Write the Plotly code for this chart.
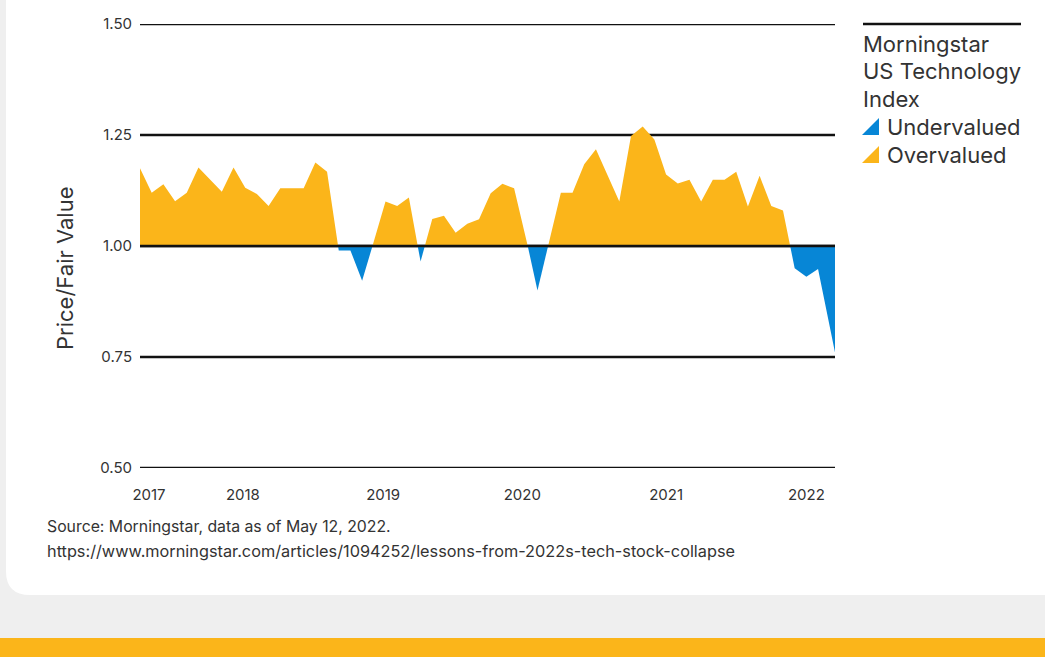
import plotly.graph_objects as go

# ---------------- data ----------------
# month index (0 = first observation); last point is a partial month (May 12, 2022)
month_index = list(range(59)) + [59.45]
price_fair_value = [
    1.175, 1.12, 1.139, 1.101, 1.12, 1.177, 1.15, 1.122, 1.177, 1.131,
    1.117, 1.09, 1.13, 1.13, 1.13, 1.188, 1.167, 0.99, 0.99, 0.922,
    1.01, 1.10, 1.09, 1.109, 0.965, 1.061, 1.068, 1.03, 1.05, 1.06,
    1.119, 1.14, 1.13, 1.02, 0.90, 1.01, 1.12, 1.12, 1.184, 1.218,
    1.159, 1.10, 1.248, 1.269, 1.24, 1.161, 1.141, 1.149, 1.10, 1.149,
    1.149, 1.167, 1.089, 1.158, 1.09, 1.08, 0.95, 0.931, 0.948, 0.76,
]
year_labels = ["2017", "2018", "2019", "2020", "2021", "2022"]
year_label_pos = [0.77, 8.8, 20.8, 32.7, 45.0, 57.0]
y_ticks = [0.50, 0.75, 1.00, 1.25, 1.50]
fair_value = 1.0

YELLOW = "#FBB51A"
BLUE = "#0786D6"
TEXT = "#333333"
FONT = "Inter"

# ---------------- split into over / under segments ----------------
def split_segments(xs, ys, base):
    segs = []
    sign = ys[0] >= base
    cx, cy = [xs[0], xs[0]], [base, ys[0]]
    for i in range(1, len(xs)):
        s = ys[i] >= base
        if s != sign:
            t = (base - ys[i - 1]) / (ys[i] - ys[i - 1])
            xc = xs[i - 1] + t * (xs[i] - xs[i - 1])
            cx.append(xc); cy.append(base)
            segs.append((sign, cx, cy))
            cx, cy = [xc], [base]
            sign = s
        cx.append(xs[i]); cy.append(ys[i])
    cx.append(xs[-1]); cy.append(base)
    segs.append((sign, cx, cy))
    return segs

fig = go.Figure()
for over, sx, sy in split_segments(month_index, price_fair_value, fair_value):
    fig.add_trace(go.Scatter(
        x=sx, y=sy, mode="lines", fill="toself",
        fillcolor=YELLOW if over else BLUE,
        line=dict(width=0, color=YELLOW if over else BLUE),
        hoverinfo="skip", showlegend=False,
    ))

# ---------------- layout geometry ----------------
W, H = 1045, 657
L, R, T, B = 140, 835, 24, 468
pw, ph = R - L, B - T

def px(xp):
    return (xp - L) / pw

def py(yp):
    return (B - yp) / ph

shapes = []
# gray page, white card with rounded bottom corners
r = 24
x0, x1, y1 = 6, 1070, 595
path = (f"M {px(x0)},{py(-10)} L {px(x0)},{py(y1 - r)} "
        f"Q {px(x0)},{py(y1)} {px(x0 + r)},{py(y1)} "
        f"L {px(x1 - r)},{py(y1)} Q {px(x1)},{py(y1)} {px(x1)},{py(y1 - r)} "
        f"L {px(x1)},{py(-10)} Z")
shapes.append(dict(type="path", xref="paper", yref="paper", path=path,
                   fillcolor="white", line=dict(width=0), layer="below"))
# yellow footer band
shapes.append(dict(type="rect", xref="paper", yref="paper",
                   x0=px(-5), x1=px(W + 5), y0=py(638), y1=py(H + 5),
                   fillcolor=YELLOW, line=dict(width=0), layer="below"))
# horizontal gridlines (below the areas)
for v in y_ticks:
    shapes.append(dict(type="line", xref="paper", yref="y", x0=0, x1=1,
                       y0=v, y1=v, line=dict(color="#111111", width=2.4),
                       layer="below"))
# fair value line on top of the areas
shapes.append(dict(type="line", xref="paper", yref="y", x0=0, x1=1,
                   y0=fair_value, y1=fair_value,
                   line=dict(color="#111111", width=2.4), layer="above"))
# legend top rule
shapes.append(dict(type="line", xref="paper", yref="paper",
                   x0=px(863), x1=px(1021), y0=py(24), y1=py(24),
                   line=dict(color="#111111", width=2.4)))
# legend triangles
for col, ytop in [(BLUE, 118), (YELLOW, 146)]:
    a, b = ytop, ytop + 17
    tri = (f"M {px(862)},{py(b)} L {px(879)},{py(b)} L {px(879)},{py(a)} Z")
    shapes.append(dict(type="path", xref="paper", yref="paper", path=tri,
                       fillcolor=col, line=dict(width=0)))

annotations = []
def ann(text, x, y, size, xanchor="left", angle=0):
    annotations.append(dict(text=text, x=px(x), y=py(y), xref="paper", yref="paper",
                            xanchor=xanchor, yanchor="middle", showarrow=False,
                            textangle=angle,
                            font=dict(family=FONT, size=size, color=TEXT)))

ann("Morningstar", 861, 44, 22)
ann("US Technology", 861, 71, 22)
ann("Index", 861, 99, 22)
ann("Undervalued", 885, 127, 22)
ann("Overvalued", 885, 155, 22)
ann("Price/Fair Value", 65, 268, 22, xanchor="center", angle=-90)
ann("Source: Morningstar, data as of May 12, 2022.", 45, 526, 15.8)
ann("https://www.morningstar.com/articles/1094252/lessons-from-2022s-tech-stock-collapse",
    45, 551, 16.3)

fig.update_layout(
    width=W, height=H,
    margin=dict(l=L, r=W - R, t=T, b=H - B, pad=0),
    paper_bgcolor="#EFEFEF",
    plot_bgcolor="rgba(0,0,0,0)",
    font=dict(family=FONT, color=TEXT),
    showlegend=False,
    shapes=shapes,
    annotations=annotations,
    xaxis=dict(
        range=[0, month_index[-1]], showgrid=False, zeroline=False, showline=False,
        tickmode="array", tickvals=year_label_pos, ticktext=year_labels,
        ticks="", ticklabelstandoff=16,
        tickfont=dict(family=FONT, size=15, color=TEXT),
        fixedrange=True,
    ),
    yaxis=dict(
        range=[0.5, 1.5], tickmode="array", tickvals=y_ticks,
        tickformat=".2f", showgrid=False,
        zeroline=False, showline=False, ticks="", ticklabelstandoff=7,
        tickfont=dict(family=FONT, size=15, color=TEXT),
        fixedrange=True,
    ),
)

fig.write_html("out.html", config={"displayModeBar": False},
               post_script="document.body.style.margin='0';document.body.style.overflow='hidden';")
